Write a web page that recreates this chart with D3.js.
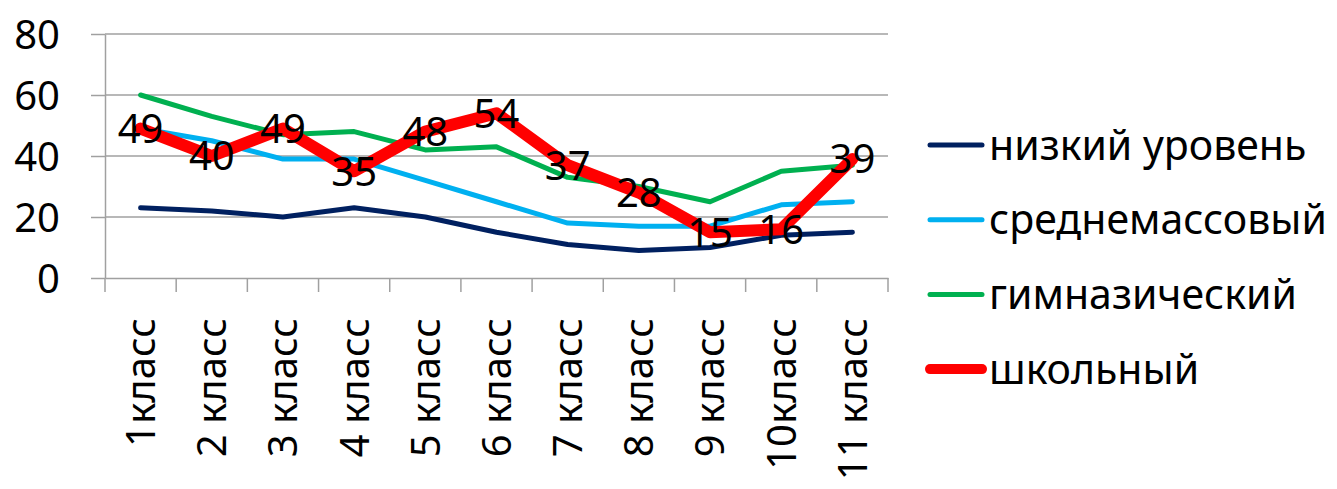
<!DOCTYPE html>
<html>
<head>
<meta charset="utf-8">
<script src="https://cdn.jsdelivr.net/npm/d3@7"></script>
<style>
    html, body { margin: 0; padding: 0; background: #fff; }
    svg text { font-family: "Noto Sans", "Open Sans", sans-serif; fill: #000; }
</style>
</head>
<body>
<div id="chart"></div>
<script>
// categories and series
const categories = ["1класс", "2 класс", "3 класс", "4 класс", "5 класс", "6 класс",
    "7 класс", "8 класс", "9 класс", "10класс", "11 класс"];
const seriesNames = ["низкий уровень", "среднемассовый", "гимназический", "школьный"];
const lowLevel = [23, 22, 20, 23, 20, 15, 11, 9, 10, 14, 15];
const massLevel = [49, 45, 39, 39, 32, 25, 18, 17, 17, 24, 25];
const gymLevel = [60, 53, 47, 48, 42, 43, 33, 30, 25, 35, 37];
const schoolLevel = [49, 40, 49, 35, 48, 54, 37, 28, 15, 16, 39];
const yTicks = [0, 20, 40, 60, 80];

class LineChart {
    constructor(containerId) {
        this.width = 1337;
        this.height = 489;
        // plot area
        this.plot = {left: 105, right: 888, top: 34, bottom: 278};

        this.svg = d3.select("#" + containerId)
            .append("svg")
            .attr("width", this.width)
            .attr("height", this.height);

        this.x = d3.scaleBand()
            .domain(categories)
            .range([this.plot.left, this.plot.right]);
        this.y = d3.scaleLinear()
            .domain([0, 80])
            .range([this.plot.bottom, this.plot.top]);

        this.series = [
            {name: seriesNames[0], values: lowLevel, color: "#002060", width: 5},
            {name: seriesNames[1], values: massLevel, color: "#00B0F0", width: 5},
            {name: seriesNames[2], values: gymLevel, color: "#00B050", width: 5},
            {name: seriesNames[3], values: schoolLevel, color: "#FF0000", width: 12, labels: true}
        ];
    }

    draw() {
        const grid = "#A0A0A0";

        // горизонтальные линии сетки
        this.svg.append("g")
            .selectAll("line")
            .data(yTicks.filter(d => d > 0))
            .join("line")
            .attr("x1", this.plot.left)
            .attr("x2", this.plot.right)
            .attr("y1", d => this.y(d))
            .attr("y2", d => this.y(d))
            .attr("stroke", grid)
            .attr("stroke-width", 1.5);

        // ось y
        const yAxis = this.svg.append("g")
            .attr("transform", `translate(${this.plot.left},0)`)
            .call(d3.axisLeft(this.y).tickValues(yTicks).tickSize(14).tickPadding(31).tickSizeOuter(0));
        yAxis.select(".domain").attr("stroke", grid).attr("stroke-width", 1.5);
        yAxis.selectAll(".tick line").attr("stroke", grid).attr("stroke-width", 1.5);
        yAxis.selectAll(".tick text").attr("font-size", 40).attr("dy", "0.36em");

        // ось x
        const xAxis = this.svg.append("g")
            .attr("transform", `translate(0,${this.plot.bottom})`)
            .call(d3.axisBottom(this.x).tickSize(0).tickSizeOuter(0));
        xAxis.select(".domain").attr("stroke", grid).attr("stroke-width", 1.5);
        xAxis.selectAll(".tick text")
            .attr("font-size", 40)
            .attr("text-anchor", "end")
            .attr("transform", "rotate(-90)")
            .attr("x", -40)
            .attr("y", 0)
            .attr("dy", "0.36em");

        // деления между категориями
        const bounds = categories.map(c => this.x(c)).concat([this.plot.right]);
        xAxis.append("g")
            .selectAll("line")
            .data(bounds)
            .join("line")
            .attr("x1", d => d)
            .attr("x2", d => d)
            .attr("y1", 0)
            .attr("y2", 14)
            .attr("stroke", grid)
            .attr("stroke-width", 1.5);

        // линии
        const line = d3.line()
            .x((d, i) => this.x(categories[i]) + this.x.bandwidth() / 2)
            .y(d => this.y(d));

        this.svg.append("g")
            .selectAll("path")
            .data(this.series)
            .join("path")
            .attr("fill", "none")
            .attr("stroke", d => d.color)
            .attr("stroke-width", d => d.width)
            .attr("stroke-linejoin", "round")
            .attr("stroke-linecap", "round")
            .attr("d", d => line(d.values));

        // подписи данных
        const labelled = this.series.filter(s => s.labels);
        labelled.forEach(s => {
            this.svg.append("g")
                .selectAll("text")
                .data(s.values)
                .join("text")
                .attr("x", (d, i) => this.x(categories[i]) + this.x.bandwidth() / 2)
                .attr("y", d => this.y(d))
                .attr("dy", "0.36em")
                .attr("text-anchor", "middle")
                .attr("font-size", 40)
                .text(d => d);
        });

        // легенда
        const legend = this.svg.append("g")
            .attr("transform", "translate(930,145)");
        const items = legend.selectAll("g")
            .data(this.series)
            .join("g")
            .attr("transform", (d, i) => `translate(0,${i * 74.7})`);
        items.append("line")
            .attr("x1", 0)
            .attr("x2", 52)
            .attr("stroke", d => d.color)
            .attr("stroke-width", d => d.width === 12 ? 10 : 5)
            .attr("stroke-linecap", "round");
        items.append("text")
            .attr("x", 59)
            .attr("dy", "0.36em")
            .attr("font-size", 41)
            .text(d => d.name);
    }
}

const chart = new LineChart("chart");
chart.draw();
</script>
</body>
</html>
